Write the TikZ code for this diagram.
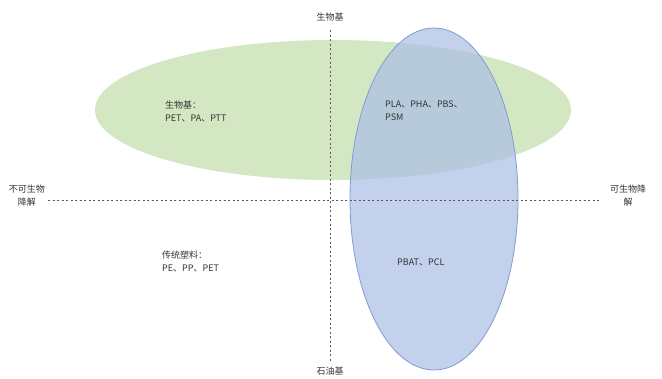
\documentclass[tikz,border=0pt]{standalone}
\usepackage{fontspec}
\setmainfont{Liberation Serif}
\newfontfamily\cjk{Noto Sans CJK SC}
\begin{document}
\begin{tikzpicture}[x=1pt,y=-1pt,
  lbl/.style={font=\cjk\fontsize{9}{13}\selectfont, text=black!80, align=left, inner sep=0pt},
  axis/.style={draw=black!65, line width=0.9pt, dash pattern=on 2pt off 2.5pt}]
\useasboundingbox (0,0) rectangle (662,378);
\fill[fill=white] (0,0) rectangle (662,378);
% ellipses
\fill[fill={rgb,255:red,205;green,227;blue,185}, fill opacity=0.85] (333,110) ellipse [x radius=238, y radius=70];
\filldraw[fill={rgb,255:red,170;green,190;blue,230}, fill opacity=0.7, draw={rgb,255:red,130;green,155;blue,210}, line width=0.8pt] (434,199) ellipse [x radius=84, y radius=171];
% axes
\coordinate (top) at (330,30);
\coordinate (bot) at (330,363);
\coordinate (lft) at (48,200);
\coordinate (rgt) at (600,200);
\draw[axis] (top) -- (bot);
\draw[axis] (lft) -- (rgt);
% axis labels
\node[lbl, align=center] (tl) at (330,17) {生物基};
\node[lbl, align=center] (bl) at (330,371) {石油基};
\node[lbl, align=center] (ll) at (27,196) {不可生物\\降解};
\node[lbl, align=center] (rl) at (628,196) {可生物降\\解};
% region labels
\node[lbl, anchor=west] (q1) at (165,111) {生物基：\\PET、PA、PTT};
\node[lbl, anchor=west] (q2) at (385,111) {PLA、PHA、PBS、\\PSM};
\node[lbl, anchor=west] (q3) at (162,261) {传统塑料：\\PE、PP、PET};
\node[lbl, anchor=west] (q4) at (397,262) {PBAT、PCL};
\end{tikzpicture}
\end{document}
